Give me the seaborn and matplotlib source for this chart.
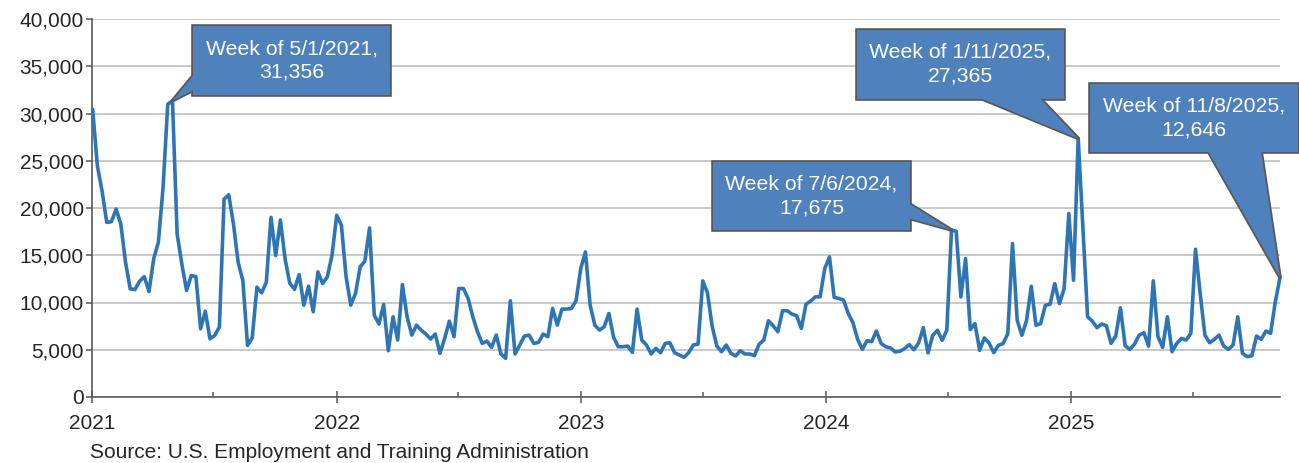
import numpy as np
import pandas as pd
import matplotlib
matplotlib.use("Agg")
import matplotlib.pyplot as plt
import matplotlib.dates as mdates
from matplotlib.ticker import FuncFormatter, MultipleLocator
import seaborn as sns


# weekly initial claims, week ending Saturday
claims_2021 = [30450, 24460, 21800, 18480, 18550, 19890, 18300, 14250, 11440, 11370,
               12250, 12740, 11160, 14610, 16370, 22180, 30980, 31356, 17250, 14080,
               11260, 12850, 12740, 7220, 9080, 6160, 6510, 7390, 20940, 21400,
               18300, 14250, 12320, 5460, 6270, 11620, 11020, 12140, 19010, 14960,
               18730, 14610, 12040, 11400, 12960, 9720, 11730, 9020, 13240, 12010,
               12710, 15000]
claims_2022 = [19230, 18170, 12710, 9720, 10950, 13770, 14370, 17890, 8670, 7720,
               9790, 4900, 8490, 6030, 11900, 8490, 6550, 7610, 7080, 6660,
               6130, 6660, 4620, 6200, 8030, 6380, 11480, 11480, 10430, 8490,
               6910, 5670, 5920, 5250, 6550, 4550, 4090, 10180, 4550, 5500,
               6450, 6550, 5670, 5780, 6660, 6380, 9370, 7610, 9300, 9300,
               9370, 10180, 13590]
claims_2023 = [15350, 9720, 7610, 7080, 7430, 8840, 6310, 5320, 5320, 5390,
               4720, 9300, 6030, 5500, 4550, 5150, 4690, 5670, 5740, 4690,
               4440, 4200, 4690, 5500, 5600, 12290, 11020, 7500, 5390, 4790,
               5500, 4620, 4340, 4900, 4550, 4550, 4370, 5570, 6030, 8070,
               7540, 6910, 9130, 9130, 8770, 8600, 7260, 9830, 10150, 10600,
               10600, 13590]
claims_2024 = [14830, 10530, 10430, 10250, 8840, 7860, 6100, 5040, 5960, 5850,
               6980, 5670, 5320, 5190, 4770, 4840, 5120, 5540, 5010, 5720,
               7340, 4660, 6530, 7060, 6000, 7060, 17675, 17540, 10590, 14650,
               7130, 7770, 4940, 6250, 5720, 4690, 5470, 5650, 6710, 16240,
               8120, 6530, 8120, 11720, 7590, 7770, 9710, 9810, 12000, 9880,
               11470, 19420]
claims_2025 = [12360, 27365, 17900, 8490, 8030, 7330, 7720, 7540, 5670, 6450,
               9440, 5430, 5040, 5600, 6550, 6800, 5390, 12290, 6380, 5250,
               8490, 4790, 5670, 6200, 6030, 6730, 15640, 10900, 6550, 5740,
               6100, 6550, 5390, 5040, 5500, 8490, 4620, 4270, 4370, 6450,
               6100, 6980, 6730, 10070, 12646]

first_week = "2021-01-02"
last_week = "2025-11-08"
year_labels = ["2021", "2022", "2023", "2024", "2025"]
callout_weeks = ["2021-05-01", "2024-07-06", "2025-01-11", "2025-11-08"]

claims = claims_2021 + claims_2022 + claims_2023 + claims_2024 + claims_2025
weeks = pd.date_range(first_week, last_week, freq="W-SAT")
df = pd.DataFrame({"week": weeks, "claims": claims})

LINE = "#2E75B6"
BOX = "#4F81BD"
AXC = "#595959"

sns.set_style("white")
plt.rcParams["font.family"] = ["Liberation Sans", "DejaVu Sans"]

fig = plt.figure(figsize=(12.99, 4.63), dpi=100)
ax = fig.add_axes([92 / 1299, 1 - 397 / 463, 1188 / 1299, 378 / 463])

sns.lineplot(data=df, x="week", y="claims", ax=ax, color=LINE,
             linewidth=2.6, clip_on=False, zorder=3)

ax.set_xlim(pd.Timestamp("2021-01-01"), pd.Timestamp(last_week))
ax.set_ylim(0, 40000)
ax.yaxis.set_major_locator(MultipleLocator(5000))
ax.yaxis.set_major_formatter(FuncFormatter(lambda v, p: f"{int(v):,}"))
ax.xaxis.set_minor_locator(mdates.MonthLocator(bymonth=7))
ax.set_xticks([pd.Timestamp(f"{y}-01-01") for y in year_labels])
ax.set_xticklabels(year_labels)

ax.grid(axis="y", color="#C0C0C0", linewidth=1.2, zorder=0)
ax.grid(axis="x", visible=False)
ax.set_axisbelow(True)
for s in ["top", "right"]:
    ax.spines[s].set_visible(False)
for s in ["left", "bottom"]:
    ax.spines[s].set_color(AXC)
    ax.spines[s].set_linewidth(1.2)

ax.tick_params(axis="x", which="major", direction="inout", length=8, width=1.1,
               color=AXC, labelsize=15, pad=8, bottom=True)
ax.tick_params(axis="x", which="minor", direction="in", length=3.6, width=1.1,
               color=AXC, bottom=True)
ax.tick_params(axis="y", which="major", direction="out", length=4, width=1.1,
               color=AXC, labelsize=15, pad=2, left=True)
ax.set_xlabel("")
ax.set_ylabel("")

# callout boxes: text centre (axes fraction), wedge base inside box, wedge width
text_pos = [(0.1681, 0.890), (0.6056, 0.532), (0.7311, 0.880), (0.9276, 0.738)]
wedge_from = [(0.11, 0.54), (0.89, 0.45), (0.61, 0.33), (0.665, 0.555)]
wedge_width = [1.30, 1.07, 2.37, 3.0]

# two passes: outlined shapes first, then plain fill on top so wedge and box merge
for layer in range(2):
    ec = AXC if layer == 0 else "none"
    lw = 2.6 if layer == 0 else 0
    for wk, tp, rp, tw in zip(callout_weeks, text_pos, wedge_from, wedge_width):
        row = df.loc[df["week"] == pd.Timestamp(wk)].iloc[0]
        d = row["week"]
        label = f"Week of {d.month}/{d.day}/{d.year},\n{int(row['claims']):,}"
        ax.annotate(label, xy=(row["week"], row["claims"]), xytext=tp,
                    textcoords="axes fraction", ha="center", va="center",
                    color="white", fontsize=15.3, linespacing=1.32,
                    zorder=5 + layer, annotation_clip=False,
                    bbox=dict(boxstyle="square,pad=0.6", fc=BOX, ec=ec, lw=lw),
                    arrowprops=dict(arrowstyle=f"wedge,tail_width={tw}",
                                    fc=BOX, ec=ec, lw=lw, relpos=rp, patchA=None,
                                    shrinkA=0, shrinkB=0))

fig.text(90 / 1299, 1 - 452 / 463,
         "Source: U.S. Employment and Training Administration",
         fontsize=15, ha="left", va="center")

plt.savefig("out.png", dpi=100)
plt.close()
